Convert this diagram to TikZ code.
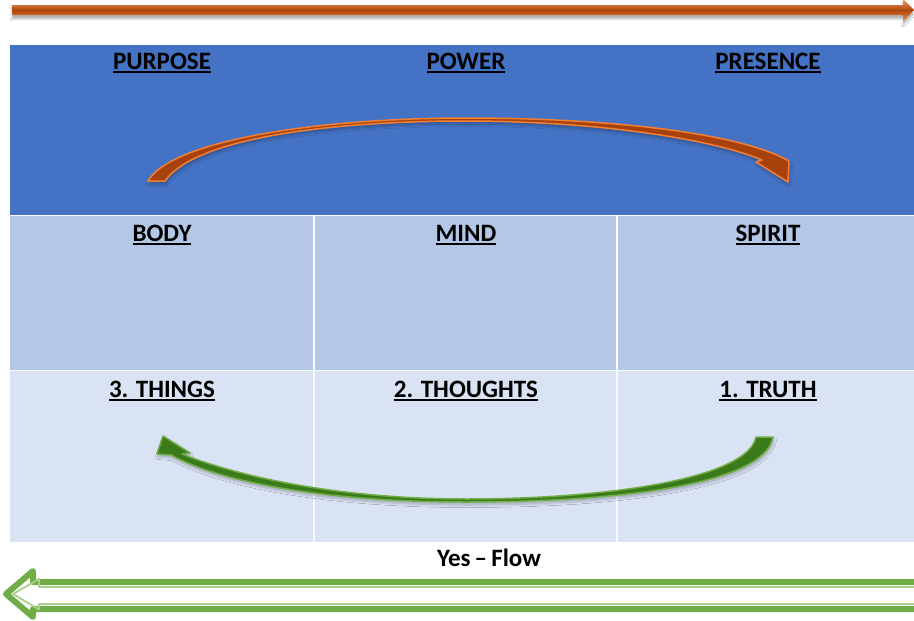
\documentclass[tikz,border=0pt]{standalone}
\usepackage{fontspec}
\setmainfont{Carlito}
\usetikzlibrary{shadows.blur}

\definecolor{hdrblue}{HTML}{4472C4}
\definecolor{midblue}{HTML}{B4C7E7}
\definecolor{lowblue}{HTML}{DAE3F3}
\definecolor{orgfill}{HTML}{A8420C}
\definecolor{orgedge}{HTML}{F47F30}
\definecolor{grnfill}{HTML}{3B7A1A}
\definecolor{grnedge}{HTML}{70AD47}
\definecolor{grnlight}{HTML}{A9D18E}

% bold heading with a heavy underline
\newcommand\hdul[1]{\leavevmode\vtop{\hbox{#1}\kern1.8pt\hrule height 1.7pt}}

\tikzset{
  heading/.style={anchor=base, font=\fontsize{25}{30}\selectfont\bfseries, inner sep=0pt},
  plainlabel/.style={anchor=base, font=\fontsize{25}{30}\selectfont\bfseries, inner sep=0pt},
  gridline/.style={draw=white!85!lowblue, line width=1.3pt},
  softshadow/.style={blur shadow={shadow xshift=1pt, shadow yshift=-3pt,
      shadow blur steps=6, shadow opacity=25, shadow blur radius=2.5pt}},
  curvedorange/.style={fill=orgfill, draw=orgedge, line width=1.5pt, line join=round, softshadow},
  curvedgreen/.style={fill=grnfill, draw=grnedge, line width=1.5pt, line join=round, softshadow},
  outlinearrow/.style={draw=grnedge, line width=6pt, line join=round},
  outlineinner/.style={draw=grnlight, line width=1.8pt, line join=round},
}

\begin{document}
\begin{tikzpicture}[x=1pt, y=-1pt]
\useasboundingbox (0,0) rectangle (914,621);
\fill[white] (0,0) rectangle (914,621);

% table rows
\fill[hdrblue] (10,45) rectangle (914,215.5);
\fill[midblue] (10,215.5) rectangle (914,370.5);
\fill[lowblue] (10,370.5) rectangle (914,542);
\draw[gridline] (10,215.5) -- (914,215.5);
\draw[gridline] (10,370.5) -- (914,370.5);
\draw[gridline] (314,215.5) -- (314,542);
\draw[gridline] (617,215.5) -- (617,542);

% headings
\node[heading] (purpose)  at (162,69)  {\hdul{PURPOSE}};
\node[heading] (power)    at (466,69)  {\hdul{POWER}};
\node[heading] (presence) at (768,69)  {\hdul{PRESENCE}};
\node[heading] (body)     at (162,241) {\hdul{BODY}};
\node[heading] (mind)     at (466,241) {\hdul{MIND}};
\node[heading] (spirit)   at (768,241) {\hdul{SPIRIT}};
\node[heading] (things)   at (162,397) {\hdul{3. THINGS}};
\node[heading] (thoughts) at (466,397) {\hdul{2. THOUGHTS}};
\node[heading] (truth)    at (768,397) {\hdul{1. TRUTH}};
\node[plainlabel] (flow)  at (489,566) {Yes\,–\,Flow};

% top block arrow pointing right
\shade[top color=orgedge!70, bottom color=orgedge!90, middle color=orgfill!95!orange,
       blur shadow={shadow xshift=0pt, shadow yshift=-4pt, shadow blur steps=6, shadow opacity=30}]
  (12,5) -- (903,5) -- (903,-1) -- (914,10) -- (903,21) -- (903,15) -- (12,15) -- cycle;

% curved orange arrow in the header row
\path[curvedorange]
  (148,181) .. controls (172,140) and (320,118) .. (466,118)
  .. controls (610,118) and (740,133) .. (789,161)
  -- (788,182) -- (756,162) -- (762,160)
  .. controls (715,140) and (600,121) .. (466,121)
  .. controls (335,121) and (196,137) .. (165,181) -- cycle;

% curved green arrow in the bottom row
\path[curvedgreen]
  (773,437) .. controls (765,484) and (620,502) .. (466,502)
  .. controls (330,502) and (222,483) .. (171,455)
  -- (157,454) -- (163,436) -- (190,453) -- (182,454)
  .. controls (240,477) and (340,499) .. (466,499)
  .. controls (610,499) and (748,478) .. (756,437) -- cycle;

% outlined block arrow pointing left
\draw[outlinearrow] (925,582) -- (33,582) -- (33,571) -- (6,594) -- (33,617) -- (33,609) -- (925,609);
\draw[outlineinner] (925,587) -- (39,587) -- (39,579) -- (13,594) -- (39,609.5) -- (39,604) -- (925,604);
\end{tikzpicture}
\end{document}
